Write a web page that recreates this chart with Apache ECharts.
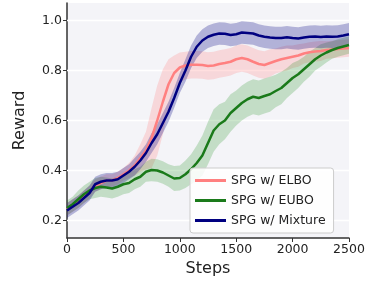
<!DOCTYPE html>
<html>
<head>
<meta charset="utf-8">
<script src="https://cdn.jsdelivr.net/npm/echarts@6/dist/echarts.min.js"></script>
<style>
  html, body { margin: 0; padding: 0; background: #fff; }
  #chart { width: 370px; height: 282px; }
</style>
</head>
<body>
<div id="chart"></div>
<script>
// steps 0..2500, every 50
const steps = [0, 50, 100, 150, 200, 250, 300, 350, 400, 450, 500, 550, 600, 650, 700, 750, 800, 850, 900, 950,
  1000, 1050, 1100, 1150, 1200, 1250, 1300, 1350, 1400, 1450, 1500, 1550, 1600, 1650, 1700, 1750, 1800, 1850, 1900, 1950,
  2000, 2050, 2100, 2150, 2200, 2250, 2300, 2350, 2400, 2450, 2500];

const elboMean = [0.245, 0.26, 0.275, 0.295, 0.315, 0.34, 0.35, 0.36, 0.36, 0.37, 0.385, 0.4, 0.42, 0.45, 0.48, 0.53, 0.6, 0.675, 0.745, 0.79,
  0.812, 0.82, 0.823, 0.823, 0.822, 0.818, 0.82, 0.826, 0.83, 0.835, 0.845, 0.85, 0.845, 0.835, 0.826, 0.822, 0.83, 0.838, 0.845, 0.85,
  0.855, 0.86, 0.868, 0.873, 0.876, 0.878, 0.882, 0.884, 0.886, 0.888, 0.89];
const elboSpread = [0.025, 0.025, 0.025, 0.025, 0.025, 0.025, 0.025, 0.025, 0.025, 0.025, 0.025, 0.03, 0.04, 0.055, 0.075, 0.12, 0.14, 0.13, 0.1, 0.07,
  0.06, 0.055, 0.055, 0.055, 0.055, 0.055, 0.055, 0.055, 0.055, 0.055, 0.055, 0.055, 0.055, 0.055, 0.055, 0.055, 0.055, 0.05, 0.05, 0.05,
  0.045, 0.045, 0.04, 0.04, 0.04, 0.04, 0.035, 0.035, 0.035, 0.035, 0.035];

const euboMean = [0.25, 0.265, 0.285, 0.305, 0.32, 0.33, 0.335, 0.332, 0.328, 0.335, 0.345, 0.35, 0.365, 0.375, 0.395, 0.402, 0.4, 0.392, 0.38, 0.368,
  0.37, 0.385, 0.405, 0.43, 0.46, 0.51, 0.56, 0.585, 0.6, 0.63, 0.65, 0.67, 0.685, 0.695, 0.69, 0.698, 0.705, 0.718, 0.73, 0.75,
  0.77, 0.785, 0.805, 0.825, 0.845, 0.86, 0.872, 0.882, 0.89, 0.896, 0.902];
const euboSpread = [0.03, 0.03, 0.035, 0.035, 0.035, 0.04, 0.04, 0.04, 0.04, 0.04, 0.04, 0.04, 0.04, 0.04, 0.04, 0.045, 0.045, 0.045, 0.045, 0.05,
  0.05, 0.055, 0.06, 0.07, 0.08, 0.085, 0.085, 0.08, 0.075, 0.075, 0.07, 0.07, 0.07, 0.07, 0.07, 0.07, 0.07, 0.065, 0.065, 0.06,
  0.06, 0.055, 0.05, 0.05, 0.045, 0.045, 0.04, 0.035, 0.035, 0.035, 0.035];

const mixMean = [0.24, 0.255, 0.27, 0.29, 0.31, 0.345, 0.355, 0.36, 0.36, 0.365, 0.38, 0.395, 0.415, 0.44, 0.47, 0.51, 0.545, 0.59, 0.635, 0.69,
  0.75, 0.8, 0.855, 0.895, 0.92, 0.935, 0.943, 0.948, 0.947, 0.942, 0.945, 0.952, 0.95, 0.948, 0.94, 0.935, 0.932, 0.93, 0.93, 0.933,
  0.93, 0.928, 0.932, 0.935, 0.936, 0.934, 0.936, 0.935, 0.936, 0.94, 0.945];
const mixSpread = [0.03, 0.03, 0.03, 0.03, 0.03, 0.03, 0.03, 0.03, 0.03, 0.03, 0.03, 0.03, 0.035, 0.035, 0.035, 0.04, 0.04, 0.04, 0.04, 0.04,
  0.04, 0.045, 0.045, 0.045, 0.045, 0.045, 0.045, 0.045, 0.045, 0.045, 0.045, 0.045, 0.045, 0.045, 0.045, 0.045, 0.045, 0.045, 0.045, 0.045,
  0.045, 0.045, 0.045, 0.045, 0.045, 0.045, 0.045, 0.045, 0.045, 0.045, 0.045];

const yTicks = [0.2, 0.4, 0.6, 0.8, 1.0];

const runs = [
  { name: 'SPG w/ ELBO', mean: elboMean, spread: elboSpread, color: '#ff8080', band: 'rgba(255,128,128,0.25)' },
  { name: 'SPG w/ EUBO', mean: euboMean, spread: euboSpread, color: '#1a7a1a', band: 'rgba(0,128,0,0.2)' },
  { name: 'SPG w/ Mixture', mean: mixMean, spread: mixSpread, color: '#000080', band: 'rgba(0,0,128,0.27)' }
];

// shaded band: one polygon, upper edge forward then lower edge back
function bandSeries(r) {
  return {
    type: 'custom', silent: true,
    data: [[steps[0], r.mean[0]]],
    renderItem: (params, api) => {
      const upper = steps.map((s, i) => api.coord([s, r.mean[i] + r.spread[i]]));
      const lower = steps.map((s, i) => api.coord([s, r.mean[i] - r.spread[i]])).reverse();
      return {
        type: 'polygon',
        shape: { points: upper.concat(lower) },
        style: { fill: r.band }
      };
    }
  };
}

// white horizontal grid lines under the data
const series = [{
  type: 'custom', silent: true, z: 1,
  data: yTicks.map(v => [0, v]),
  renderItem: (params, api) => {
    const a = api.coord([0, api.value(1)]);
    const b = api.coord([2500, api.value(1)]);
    return {
      type: 'line',
      shape: { x1: a[0], y1: a[1], x2: b[0], y2: b[1] },
      style: { stroke: '#ffffff', lineWidth: 1.5 }
    };
  }
}];
runs.forEach(r => {
  series.push(bandSeries(r));
  series.push({
    name: r.name, type: 'line', data: steps.map((s, i) => [s, r.mean[i]]),
    symbol: 'none', color: r.color, lineStyle: { width: 2.5, color: r.color }
  });
});

const chart = echarts.init(document.getElementById('chart'));
chart.setOption({
  animation: false,
  textStyle: { fontFamily: 'DejaVu Sans' },
  grid: {
    left: 67, right: 21, top: 3, bottom: 44,
    show: true, backgroundColor: '#f4f4f8', borderWidth: 0
  },
  legend: {
    data: runs.map(r => r.name),
    orient: 'vertical',
    left: 190, top: 168,
    icon: 'rect', itemWidth: 31, itemHeight: 3, itemGap: 7,
    padding: [6, 8, 6, 5],
    backgroundColor: 'rgba(255,255,255,0.85)',
    borderColor: '#cccccc', borderWidth: 1, borderRadius: 3,
    textStyle: { fontSize: 12.5, color: '#222', fontFamily: 'DejaVu Sans' }
  },
  xAxis: {
    type: 'value', min: 0, max: 2500, interval: 500,
    name: 'Steps', nameLocation: 'middle', nameGap: 23,
    nameTextStyle: { fontSize: 16, color: '#222', fontFamily: 'DejaVu Sans' },
    axisLine: { lineStyle: { color: '#333', width: 1.5 } },
    axisTick: { length: 4, lineStyle: { color: '#333' } },
    axisLabel: { fontSize: 12.5, color: '#222', margin: 5, formatter: v => String(v) },
    splitLine: { show: false }
  },
  yAxis: {
    type: 'value', min: 0.13, max: 1.07,
    name: 'Reward', nameLocation: 'middle', nameGap: 39,
    nameTextStyle: { fontSize: 16, color: '#222', fontFamily: 'DejaVu Sans' },
    axisLine: { show: true, lineStyle: { color: '#333', width: 1.5 } },
    axisTick: { show: true, length: 4, customValues: yTicks, lineStyle: { color: '#333' } },
    axisLabel: { fontSize: 12.5, color: '#222', margin: 5, customValues: yTicks,
      formatter: v => v.toFixed(1) },
    splitLine: { show: false }
  },
  series: series
});
</script>
</body>
</html>
